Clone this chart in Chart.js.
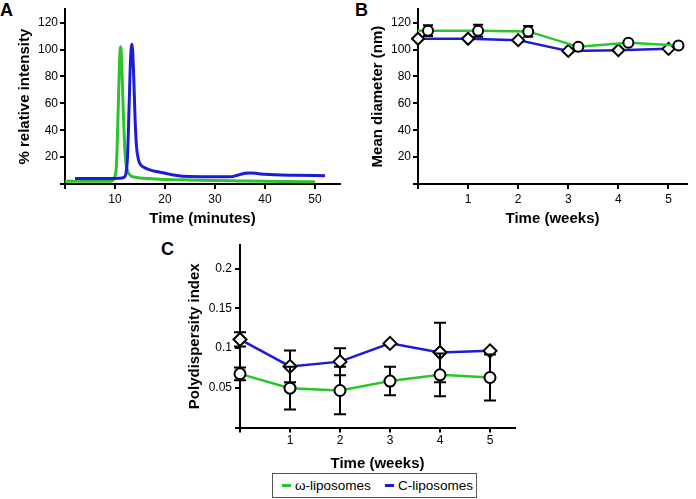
<!DOCTYPE html>
<html><head><meta charset="utf-8">
<script src="https://cdn.jsdelivr.net/npm/chart.js@4.4.1/dist/chart.umd.min.js"></script>
<style>
html,body{margin:0;padding:0;background:#fff;width:696px;height:499px;overflow:hidden;font-family:"Liberation Sans",Arial,sans-serif;}
.box{position:absolute;}
.letter{position:absolute;font-weight:bold;font-size:18px;line-height:18px;color:#000;}
#legend{position:absolute;left:272px;top:473px;width:205px;height:25px;border:1px solid #555;box-sizing:border-box;font-size:13.5px;color:#000;}
#legend .item{position:absolute;top:0;height:23px;line-height:23px;white-space:nowrap;}
#legend .sw{display:inline-block;width:9px;height:3px;vertical-align:middle;margin-right:4px;position:relative;top:-1px;}
</style>
</head><body>
<div class="letter" style="left:0px;top:1px;">A</div>
<div class="letter" style="left:355px;top:1px;">B</div>
<div class="letter" style="left:161px;top:240px;">C</div>
<div class="box" style="left:0;top:0;width:348px;height:228px;"><canvas id="cA" width="348" height="228"></canvas></div>
<div class="box" style="left:348px;top:0;width:348px;height:228px;"><canvas id="cB" width="348" height="228"></canvas></div>
<div class="box" style="left:150px;top:228px;width:380px;height:245px;"><canvas id="cC" width="380" height="245"></canvas></div>
<div id="legend"></div>
<script>
// ---------------- DATA ----------------
const seriesNames = ['ω-liposomes', 'C-liposomes'];

// Panel A: chromatograms (time in minutes, % relative intensity)
const hplcOmegaTime      = [0, 5, 9, 9.6, 10.0, 10.3, 10.6, 10.9, 11.1, 11.3, 11.6, 11.9, 12.2, 12.6, 13.2, 14, 15, 17, 20, 25, 30, 35, 40, 45, 50];
const hplcOmegaIntensity = [2, 2, 2, 3, 6, 15, 50, 90, 102, 95, 60, 30, 15, 9, 6, 5, 4.5, 4, 3.4, 3, 2.6, 2.3, 2, 1.8, 1.6];
const hplcCTime          = [2, 8, 11, 11.8, 12.2, 12.5, 12.8, 13.1, 13.4, 13.7, 14.0, 14.3, 14.7, 15.2, 16, 17, 18, 19, 20, 22, 25, 30, 33, 34.5, 36, 37, 38.5, 40, 42, 46, 52];
const hplcCIntensity     = [4, 4, 4.2, 5, 8, 20, 55, 92, 104, 85, 50, 28, 18, 14, 12, 10.5, 9.5, 8.8, 8, 6.5, 5.5, 5.3, 5.3, 6.5, 8, 8.2, 7.8, 7.2, 6.8, 6.5, 6.2];

// Panels B and C: weekly measurements
const weeks = [0, 1, 2, 3, 4, 5];
const diameterOmega    = [114, 114, 113.5, 102, 105, 103];
const diameterOmegaErr = [4, 4.5, 4, 0, 0, 0];
const diameterC        = [108, 108, 107, 99, 99.5, 100.5];
const pdiOmega    = [0.0676, 0.0496, 0.0466, 0.0585, 0.0664, 0.063];
const pdiOmegaErr = [0.008, 0.027, 0.030, 0.018, 0.027, 0.029];
const pdiC        = [0.111, 0.077, 0.083, 0.106, 0.0945, 0.0966];
const pdiCErr     = [0.009, 0.020, 0.017, 0, 0.0375, 0];

// Tick values
const ticksA_x = [0, 10, 20, 30, 40, 50];
const ticksA_y = [0, 20, 40, 60, 80, 100, 120];
const ticksB_y = [0, 20, 40, 60, 80, 100, 120];
const ticksC_y = [0, 0.05, 0.1, 0.15, 0.2];

// ---------------- STYLE ----------------
const FONT = '"Liberation Sans", Arial, sans-serif';
const GREEN = '#2cc42c';
const BLUE = '#1c1cd6';
const omegaShiftB = 0.2; // horizontal shift of ω markers in panel B

const errorBars = {
  id: 'errorBars',
  beforeDatasetDraw(chart, args) {
    const ds = chart.data.datasets[args.index];
    if (!ds.errors) return;
    const ctx = chart.ctx, xs = chart.scales.x, ys = chart.scales.y;
    const cap = ds.capHalf || 6;
    ctx.save();
    ctx.strokeStyle = '#000';
    ctx.lineWidth = 2;
    ds.data.forEach((pt, j) => {
      const e = ds.errors[j];
      if (!e) return;
      const px = xs.getPixelForValue(pt.x);
      const top = ys.getPixelForValue(pt.y + e);
      const bot = ys.getPixelForValue(pt.y - e);
      ctx.beginPath();
      ctx.moveTo(px, top); ctx.lineTo(px, bot);
      ctx.moveTo(px - cap, top); ctx.lineTo(px + cap, top);
      ctx.moveTo(px - cap, bot); ctx.lineTo(px + cap, bot);
      ctx.stroke();
    });
    ctx.restore();
  }
};

function axis(opts) {
  return {
    type: 'linear',
    min: opts.min, max: opts.max,
    afterFit: opts.afterFit,
    afterBuildTicks: s => { s.ticks = opts.ticks.map(v => ({ value: v })); },
    border: { display: true, color: '#000', width: 2 },
    grid: { display: true, drawOnChartArea: false, drawTicks: true, tickLength: 5, tickWidth: 2, tickColor: '#000', lineWidth: 2 },
    ticks: {
      color: '#000', padding: opts.tickPad, maxRotation: 0, autoSkip: false,
      font: { family: FONT, size: 12 },
      callback: v => v === 0 ? '' : String(Number(v.toFixed(2)))
    },
    title: {
      display: true, text: opts.title, color: '#000',
      font: { family: FONT, size: 15, weight: 'bold' },
      padding: { top: opts.titlePad, bottom: 0 }
    }
  };
}

function baseOptions(padding, scales) {
  return {
    responsive: false, animation: false, devicePixelRatio: 1,
    layout: { padding: padding },
    plugins: { legend: { display: false }, tooltip: { enabled: false } },
    scales: scales
  };
}

// ---------------- PANEL A ----------------
new Chart(document.getElementById('cA'), {
  type: 'line',
  data: {
    datasets: [
      { label: seriesNames[1], data: hplcCTime.map((t, i) => ({ x: t, y: hplcCIntensity[i] })),
        borderColor: BLUE, borderWidth: 3, pointRadius: 0, cubicInterpolationMode: 'monotone', clip: false },
      { label: seriesNames[0], data: hplcOmegaTime.map((t, i) => ({ x: t, y: hplcOmegaIntensity[i] })),
        borderColor: GREEN, borderWidth: 3, pointRadius: 0, cubicInterpolationMode: 'monotone', clip: false }
    ]
  },
  options: baseOptions({ left: 0, top: 2, right: 8, bottom: 0 }, {
    x: axis({ min: 0, max: 55, ticks: ticksA_x, tickPad: 3, title: 'Time (minutes)', titlePad: 4,
              afterFit: s => { s.height = 44; } }),
    y: axis({ min: 0, max: 130, ticks: ticksA_y, tickPad: 2, title: '% relative intensity', titlePad: 16,
              afterFit: s => { s.width = 65; } })
  })
});

// ---------------- PANEL B ----------------
new Chart(document.getElementById('cB'), {
  type: 'line',
  data: {
    datasets: [
      { label: seriesNames[0],
        data: [{ x: weeks[0], y: diameterOmega[0] }].concat(weeks.map((w, i) => ({ x: w + omegaShiftB, y: diameterOmega[i] }))),
        errors: [0].concat(diameterOmegaErr), capHalf: 5,
        borderColor: GREEN, borderWidth: 2.5,
        pointRadius: [0, 5, 5, 5, 5, 5, 5], pointStyle: 'circle',
        pointBorderColor: '#000', pointBackgroundColor: '#fff', pointBorderWidth: 2, tension: 0, clip: false },
      { label: seriesNames[1], data: weeks.map((w, i) => ({ x: w, y: diameterC[i] })),
        borderColor: BLUE, borderWidth: 2.5,
        pointRadius: 6, pointStyle: 'rectRot',
        pointBorderColor: '#000', pointBackgroundColor: '#fff', pointBorderWidth: 2, tension: 0, clip: false }
    ]
  },
  options: baseOptions({ left: 0, top: 2, right: 9, bottom: 0 }, {
    x: axis({ min: 0, max: 5.37, ticks: weeks, tickPad: 3, title: 'Time (weeks)', titlePad: 4,
              afterFit: s => { s.height = 44; } }),
    y: axis({ min: 0, max: 130, ticks: ticksB_y, tickPad: 2, title: 'Mean diameter (nm)', titlePad: 21,
              afterFit: s => { s.width = 70; } })
  }),
  plugins: [errorBars]
});

// ---------------- PANEL C ----------------
new Chart(document.getElementById('cC'), {
  type: 'line',
  data: {
    datasets: [
      { label: seriesNames[0], data: weeks.map((w, i) => ({ x: w, y: pdiOmega[i] })),
        errors: pdiOmegaErr, capHalf: 6,
        borderColor: GREEN, borderWidth: 2.5,
        pointRadius: 5.5, pointStyle: 'circle',
        pointBorderColor: '#000', pointBackgroundColor: '#fff', pointBorderWidth: 2, tension: 0, clip: false },
      { label: seriesNames[1], data: weeks.map((w, i) => ({ x: w, y: pdiC[i] })),
        errors: pdiCErr, capHalf: 6,
        borderColor: BLUE, borderWidth: 2.5,
        pointRadius: 6.5, pointStyle: 'rectRot',
        pointBorderColor: '#000', pointBackgroundColor: '#fff', pointBorderWidth: 2, tension: 0, clip: false }
    ]
  },
  options: baseOptions({ left: 0, top: 17, right: 15, bottom: 0 }, {
    x: axis({ min: 0, max: 5.5, ticks: weeks, tickPad: 1, title: 'Time (weeks)', titlePad: 5,
              afterFit: s => { s.height = 45.5; } }),
    y: axis({ min: 0, max: 0.23, ticks: ticksC_y, tickPad: 3, title: 'Polydispersity index', titlePad: 36,
              afterFit: s => { s.width = 90; } })
  }),
  plugins: [errorBars]
});

// ---------------- LEGEND ----------------
const legend = document.getElementById('legend');
const legendColors = [GREEN, BLUE];
const legendLeft = [9, 112];
seriesNames.forEach((name, i) => {
  const it = document.createElement('div');
  it.className = 'item';
  it.style.left = legendLeft[i] + 'px';
  const sw = document.createElement('span');
  sw.className = 'sw';
  sw.style.background = legendColors[i];
  it.appendChild(sw);
  it.appendChild(document.createTextNode(name));
  legend.appendChild(it);
});
</script>
</body></html>
